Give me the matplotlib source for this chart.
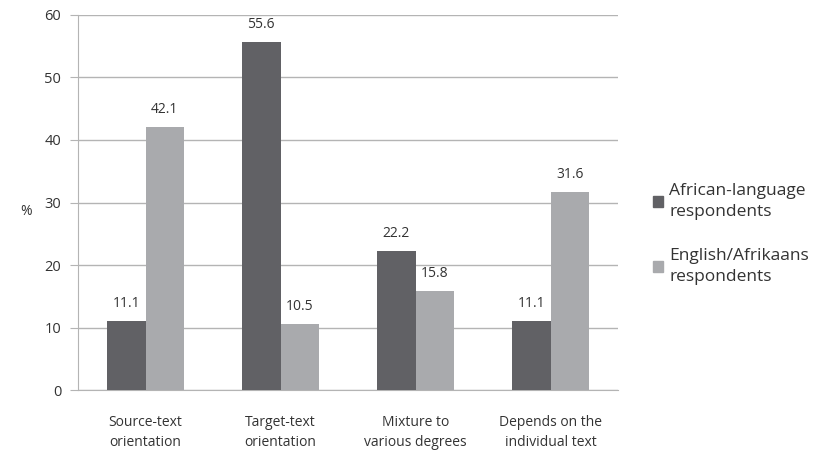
import numpy as np
import matplotlib.pyplot as plt
from matplotlib.patches import Patch

categories = ['Source-text\norientation', 'Target-text\norientation',
              'Mixture to\nvarious degrees', 'Depends on the\nindividual text']
african = [11.1, 55.6, 22.2, 11.1]
english = [42.1, 10.5, 15.8, 31.6]
series_names = ['African-language\nrespondents', 'English/Afrikaans\nrespondents']

plt.rcParams['font.family'] = ['Open Sans', 'DejaVu Sans']

dark = '#616165'
light = '#a9aaad'
grid_c = '#b4b4b4'

fig = plt.figure(figsize=(8.22, 4.5), dpi=100)
ax = fig.add_axes([0.0949, 0.1333, 0.657, 0.8334])

x = np.arange(len(categories))
w = 0.285
b1 = ax.bar(x - w / 2, african, w, color=dark, zorder=3)
b2 = ax.bar(x + w / 2, english, w, color=light, zorder=3)

for bars, vals in ((b1, african), (b2, english)):
    for rect, v in zip(bars, vals):
        ax.text(rect.get_x() + rect.get_width() / 2, v + 1.6, f'{v:.1f}',
                ha='center', va='bottom', fontsize=10, color='#333333')

ax.set_xlim(-0.5, len(categories) - 0.5)
ax.set_ylim(0, 60)
ax.set_yticks(np.arange(0, 61, 10))
ax.yaxis.grid(True, color=grid_c, linewidth=1, zorder=0)
ax.set_xticks(x)
ax.set_xticklabels(categories, fontsize=10, color='#333333', linespacing=1.45)
ax.tick_params(axis='x', length=0, pad=18)
ax.tick_params(axis='y', length=6, color=grid_c, labelsize=10.5, labelcolor='#333333', pad=6)

for s in ('top', 'right'):
    ax.spines[s].set_visible(False)
ax.spines['left'].set_color(grid_c)
ax.spines['bottom'].set_color(grid_c)

fig.text(0.025, 0.53, '%', fontsize=10, color='#333333', va='center')

handles = [Patch(color=dark), Patch(color=light)]
leg = fig.legend(handles, series_names, loc='center left', bbox_to_anchor=(0.775, 0.48),
                 frameon=False, fontsize=12.5, handlelength=0.6, handleheight=0.6,
                 handletextpad=0.35, labelspacing=1.6, labelcolor='#333333')
for t in leg.get_texts():
    t.set_linespacing(1.4)

fig.savefig('out.png', dpi=100)
